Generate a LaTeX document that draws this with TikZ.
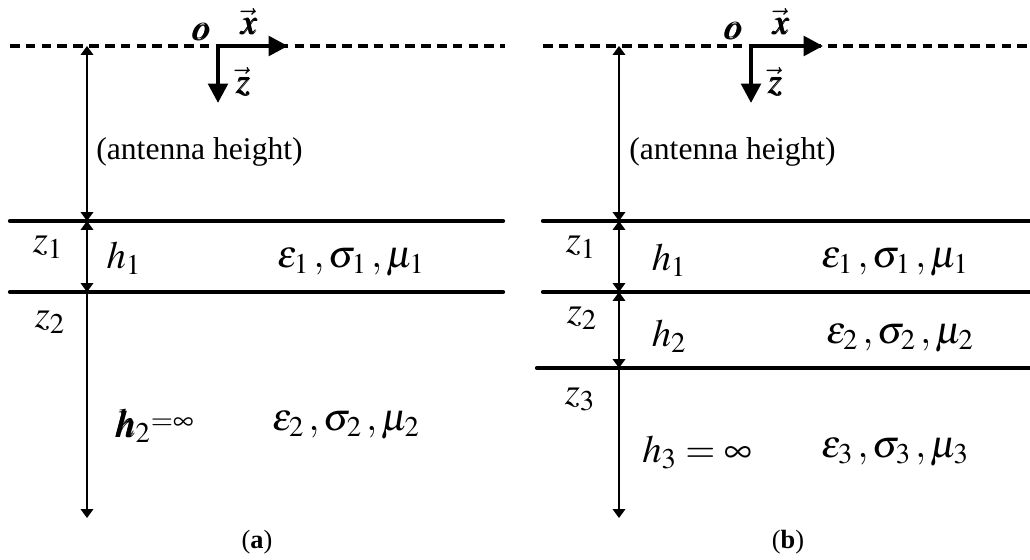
\documentclass[tikz,border=0pt]{standalone}
\usepackage{amsmath}
\usepackage{mathptmx}
\usepackage{bm}
\usepackage{fontspec}
\setmainfont{Liberation Serif}
\usetikzlibrary{arrows.meta}

\begin{document}
\begin{tikzpicture}[x=0.02cm, y=-0.02cm,
    surface/.style={line width=2pt, dash pattern=on 5.5pt off 3.5pt},
    layer/.style={line width=2.4pt, line cap=round},
    axisarrow/.style={line width=2.4pt, -{Triangle[length=11pt,width=11pt]}},
    dimarrow/.style={line width=1.1pt, {Triangle[length=5pt,width=7pt]}-{Triangle[length=5pt,width=7pt]}},
    downarrow/.style={line width=1.1pt, -{Triangle[length=5pt,width=7pt]}},
    lab/.style={inner sep=0pt, font=\fontsize{22}{24}\selectfont},
    zlab/.style={inner sep=0pt, font=\fontsize{22}{24}\selectfont},
    axlab/.style={inner sep=0pt, font=\fontsize{20}{22}\selectfont},
    txt/.style={inner sep=0pt, font=\fontsize{18}{20}\selectfont},
    caplab/.style={inner sep=0pt, font=\fontsize{15}{17}\selectfont}]
    \useasboundingbox (0,0) rectangle (1030,560);

    % ---------- (a) ----------
    % Surface and interfaces
    \draw[surface] (10,46) -- (505,46);
    \draw[layer] (10,221) -- (503,221);
    \draw[layer] (10,292) -- (503,292);

    % Coordinate system
    \coordinate (aO) at (218,46);
    \coordinate (aX) at (288,46);
    \coordinate (aZ) at (218,103);
    \draw[axisarrow] (aO) -- (aX);
    \draw[axisarrow] (aO) -- (aZ);
    \node[axlab] (ao) at (201,32) {$\bm{o}$};
    \node[axlab] (ax) at (249,22) {$\bm{\vec{x}}$};
    \node[axlab] (az) at (243,82) {$\bm{\vec{z}}$};

    % Height arrows
    \coordinate (aTop) at (87,46);
    \coordinate (aI1) at (87,221);
    \coordinate (aI2) at (87,292);
    \coordinate (aEnd) at (87,518);
    \draw[dimarrow] (aTop) -- (aI1);
    \draw[dimarrow] (aI1) -- (aI2);
    \draw[downarrow] (aI2) -- (aEnd);

    % Labels
    \node[txt, anchor=west] (aant) at (96,152) {(antenna height)};
    \node[zlab] (az1) at (48,247) {$z_1$};
    \node[zlab] (az2) at (50,322) {$z_2$};
    \node[lab] (ah1) at (124,258) {$h_1$};
    \node[lab] (ap1) at (351,262) {$\varepsilon_1\,,\sigma_1\,,\mu_1$};
    \node[lab] (ah2) at (154,426) {$\bm{h}_2\raisebox{0.45ex}{$\scriptstyle=\infty$}$};
    \node[lab] (ap2) at (346,425) {$\varepsilon_2\,,\sigma_2\,,\mu_2$};
    \node[caplab] (capa) at (257,542) {(\textbf{a})};

    % ---------- (b) ----------
    % Surface and interfaces
    \draw[surface] (543,46) -- (1030,46);
    \draw[layer] (543,221) -- (1032,221);
    \draw[layer] (543,292) -- (1032,292);
    \draw[layer] (537,368) -- (1032,368);

    % Coordinate system
    \coordinate (bO) at (751,46);
    \coordinate (bX) at (823,46);
    \coordinate (bZ) at (751,103);
    \draw[axisarrow] (bO) -- (bX);
    \draw[axisarrow] (bO) -- (bZ);
    \node[axlab] (bo) at (733,31) {$\bm{o}$};
    \node[axlab] (bx) at (781,22) {$\bm{\vec{x}}$};
    \node[axlab] (bz) at (775,82) {$\bm{\vec{z}}$};

    % Height arrows
    \coordinate (bTop) at (619,46);
    \coordinate (bI1) at (619,221);
    \coordinate (bI2) at (619,292);
    \coordinate (bI3) at (619,368);
    \coordinate (bEnd) at (619,518);
    \draw[dimarrow] (bTop) -- (bI1);
    \draw[dimarrow] (bI1) -- (bI2);
    \draw[dimarrow] (bI2) -- (bI3);
    \draw[downarrow] (bI3) -- (bEnd);

    % Labels
    \node[txt, anchor=west] (bant) at (629,152) {(antenna height)};
    \node[zlab] (bz1) at (581,247) {$z_1$};
    \node[zlab] (bz2) at (582,318) {$z_2$};
    \node[zlab] (bz3) at (580,399) {$z_3$};
    \node[lab] (bh1) at (669,260) {$h_1$};
    \node[lab] (bp1) at (895,262) {$\varepsilon_1\,,\sigma_1\,,\mu_1$};
    \node[lab] (bh2) at (669,336) {$h_2$};
    \node[lab] (bp2) at (900,338) {$\varepsilon_2\,,\sigma_2\,,\mu_2$};
    \node[lab] (bh3) at (697,452) {$h_3=\infty$};
    \node[lab] (bp3) at (895,452) {$\varepsilon_3\,,\sigma_3\,,\mu_3$};
    \node[caplab] (capb) at (788,542) {(\textbf{b})};
\end{tikzpicture}
\end{document}
